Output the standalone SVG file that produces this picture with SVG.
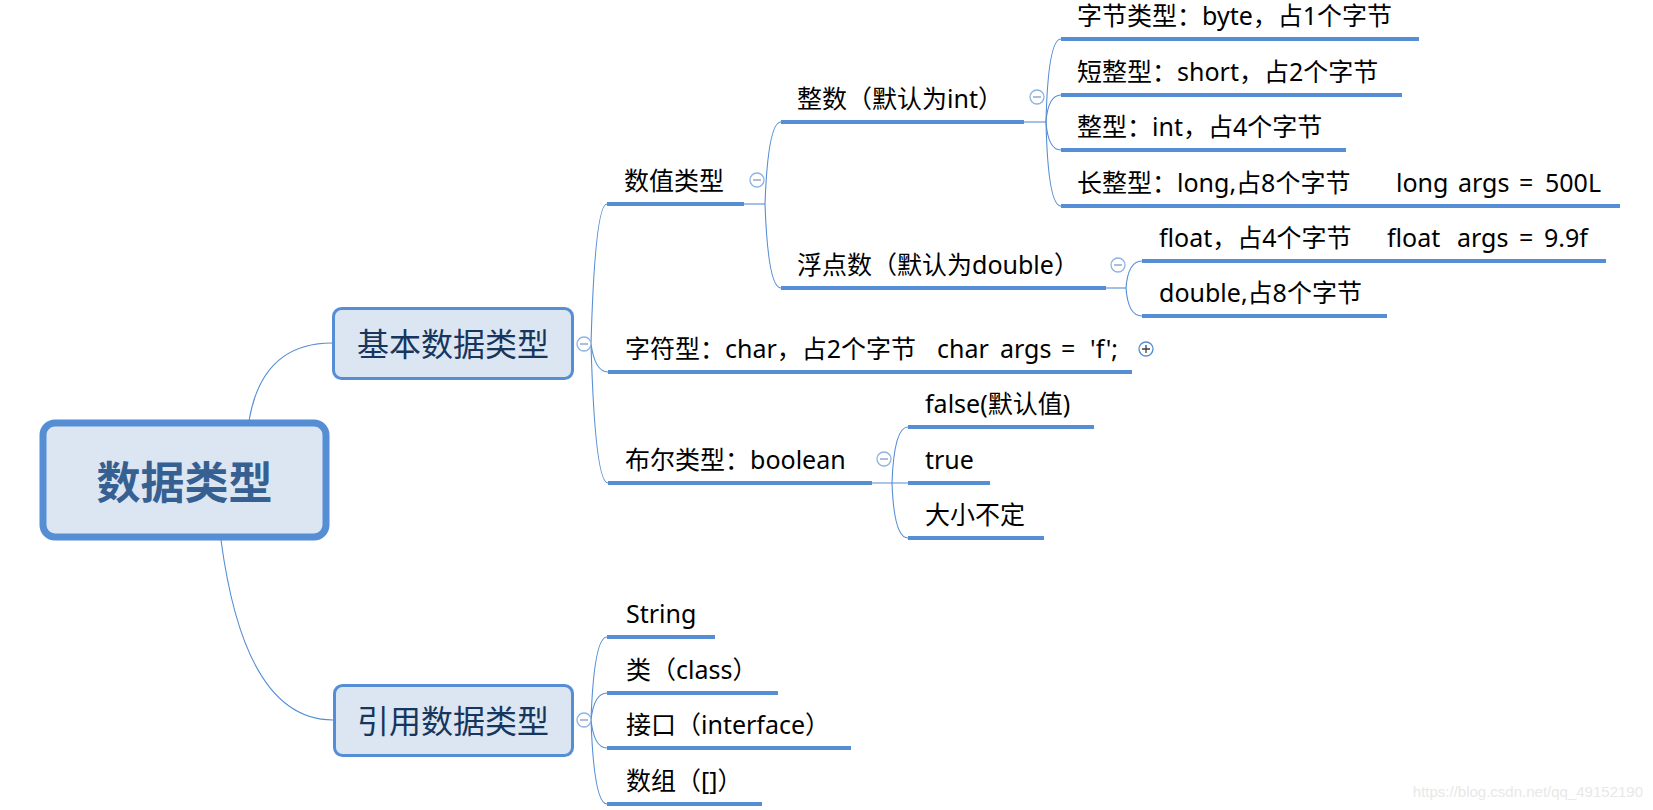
<svg xmlns="http://www.w3.org/2000/svg" width="1653" height="810" viewBox="0 0 1653 810">
<style>
.t{font-family:"Noto Sans","Noto Sans CJK SC",sans-serif;font-size:25px;fill:#000}
.ul{stroke:#558ED5;stroke-width:4;fill:none}
.cn{stroke:#558ED5;stroke-width:1.1;fill:none}
.ext{stroke:#8DB3E2;stroke-width:1.6;fill:none}
.box{fill:#DCE6F2;stroke:#558ED5;stroke-width:3}
.lt{font-family:"Noto Sans CJK SC",sans-serif;font-size:32px;fill:#17365D;text-anchor:middle}
.mc{fill:#fff;stroke:#8DB3E2;stroke-width:1.3}
.ms{stroke:#95A9C8;stroke-width:1.5}
</style>
<rect width="1653" height="810" fill="#fff"/>
<g id="connectors">
<path class="cn" d="M249 421 Q 262 343 332 343"/>
<path class="cn" d="M221 540 Q 245 720 333 720"/>
<path class="cn" d="M591 344 Q 595 204 607 204"/>
<path class="cn" d="M591 344 Q 595 372 608 372"/>
<path class="cn" d="M591 344 Q 595 483 608 483"/>
<path class="cn" d="M744 204 L765 204"/>
<path class="cn" d="M765 204 Q 768 122 781 122"/>
<path class="cn" d="M765 204 Q 768 288 781 288"/>
<path class="ext" d="M1024 122 L1046 122"/>
<path class="cn" d="M1046 122 Q 1048 39 1061 39"/>
<path class="cn" d="M1046 122 Q 1048 95 1061 95"/>
<path class="cn" d="M1046 122 Q 1048 150 1061 150"/>
<path class="cn" d="M1046 122 Q 1048 206 1061 206"/>
<path class="cn" d="M1106 288 L1126 288"/>
<path class="cn" d="M1126 288 Q 1128 261 1142 261"/>
<path class="cn" d="M1126 288 Q 1128 316 1142 316"/>
<path class="cn" d="M872 483 L908 483"/>
<path class="cn" d="M892 483 Q 894 427 908 427"/>
<path class="cn" d="M892 483 Q 894 538 908 538"/>
<path class="cn" d="M591 720 Q 594 637 607 637"/>
<path class="cn" d="M591 720 Q 594 693 607 693"/>
<path class="cn" d="M591 720 Q 594 748 607 748"/>
<path class="cn" d="M591 720 Q 594 804 607 804"/>
</g>
<g id="root">
<rect x="43" y="423" width="283" height="114" rx="12" fill="#DCE6F2" stroke="#558ED5" stroke-width="7"/>
<text x="184.5" y="499" font-family="Noto Sans CJK SC,sans-serif" font-size="44" font-weight="bold" fill="#376092" text-anchor="middle">数据类型</text>
</g>
<g id="basic">
<rect class="box" x="333.5" y="308.5" width="239" height="70" rx="8"/>
<text class="lt" x="453" y="356">基本数据类型</text>
<circle class="mc" cx="584" cy="344" r="7"/><line class="ms" x1="580" y1="344" x2="588" y2="344"/>
</g>
<g id="reference">
<rect class="box" x="334.5" y="685.5" width="238" height="70" rx="8"/>
<text class="lt" x="453" y="733">引用数据类型</text>
<circle class="mc" cx="584" cy="720" r="7"/><line class="ms" x1="580" y1="720" x2="588" y2="720"/>
</g>
<g id="numeric">
<line class="ul" x1="607" y1="204" x2="744" y2="204"/>
<text class="t" x="624" y="190">数值类型</text>
<circle class="mc" cx="757" cy="180" r="7"/><line class="ms" x1="753" y1="180" x2="761" y2="180"/>
</g>
<g id="integer">
<line class="ul" x1="781" y1="122" x2="1024" y2="122"/>
<text class="t" x="797" y="108">整数（默认为int）</text>
<circle class="mc" cx="1037" cy="97" r="7"/><line class="ms" x1="1033" y1="97" x2="1041" y2="97"/>
</g>
<g id="byte">
<line class="ul" x1="1061" y1="39" x2="1419" y2="39"/>
<text class="t" x="1077" y="25">字节类型：byte，占1个字节</text>
</g>
<g id="short">
<line class="ul" x1="1061" y1="95" x2="1402" y2="95"/>
<text class="t" x="1077" y="81">短整型：short，占2个字节</text>
</g>
<g id="int">
<line class="ul" x1="1061" y1="150" x2="1346" y2="150"/>
<text class="t" x="1077" y="136">整型：int，占4个字节</text>
</g>
<g id="long">
<line class="ul" x1="1061" y1="206" x2="1620" y2="206"/>
<text class="t" x="1077" y="192">长整型：long,占8个字节<tspan x="1396">long</tspan><tspan x="1458">args</tspan><tspan x="1519">=</tspan><tspan x="1545">500L</tspan></text>
</g>
<g id="floating">
<line class="ul" x1="781" y1="288" x2="1106" y2="288"/>
<text class="t" x="797" y="274">浮点数（默认为double）</text>
<circle class="mc" cx="1118" cy="265" r="7"/><line class="ms" x1="1114" y1="265" x2="1122" y2="265"/>
</g>
<g id="float">
<line class="ul" x1="1142" y1="261" x2="1606" y2="261"/>
<text class="t" x="1159" y="247">float，占4个字节<tspan x="1387">float</tspan><tspan x="1457">args</tspan><tspan x="1519">=</tspan><tspan x="1544">9.9f</tspan></text>
</g>
<g id="double">
<line class="ul" x1="1142" y1="316" x2="1387" y2="316"/>
<text class="t" x="1159" y="302">double,占8个字节</text>
</g>
<g id="char">
<line class="ul" x1="608" y1="372" x2="1132" y2="372"/>
<text class="t" x="625" y="358">字符型：char，占2个字节<tspan x="937">char</tspan><tspan x="1000">args</tspan><tspan x="1061">=</tspan><tspan x="1090">'f';</tspan></text>
<circle cx="1146" cy="349" r="7" fill="#fff" stroke="#558ED5" stroke-width="1.3"/>
<path d="M1142 349 H1150 M1146 345 V353" stroke="#404040" stroke-width="1.3"/>
</g>
<g id="boolean">
<line class="ul" x1="608" y1="483" x2="872" y2="483"/>
<text class="t" x="625" y="469">布尔类型：boolean</text>
<circle class="mc" cx="884" cy="459" r="7"/><line class="ms" x1="880" y1="459" x2="888" y2="459"/>
</g>
<g id="false">
<line class="ul" x1="908" y1="427" x2="1094" y2="427"/>
<text class="t" x="925" y="413">false(默认值)</text>
</g>
<g id="true">
<line class="ul" x1="908" y1="483" x2="990" y2="483"/>
<text class="t" x="925" y="469">true</text>
</g>
<g id="size">
<line class="ul" x1="908" y1="538" x2="1044" y2="538"/>
<text class="t" x="925" y="524">大小不定</text>
</g>
<g id="string">
<line class="ul" x1="607" y1="637" x2="715" y2="637"/>
<text class="t" x="626" y="623">String</text>
</g>
<g id="class">
<line class="ul" x1="607" y1="693" x2="778" y2="693"/>
<text class="t" x="626" y="679">类（class）</text>
</g>
<g id="interface">
<line class="ul" x1="607" y1="748" x2="851" y2="748"/>
<text class="t" x="626" y="734">接口（interface）</text>
</g>
<g id="array">
<line class="ul" x1="607" y1="804" x2="762" y2="804"/>
<text class="t" x="626" y="790">数组（[]）</text>
</g>
<text x="1643" y="797" font-family="Liberation Sans,sans-serif" font-size="15" fill="#E8E8E8" text-anchor="end">https://blog.csdn.net/qq_49152190</text>
</svg>
